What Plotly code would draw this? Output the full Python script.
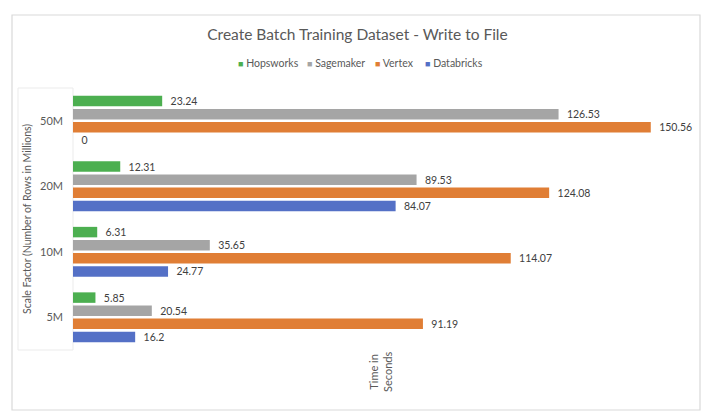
import plotly.graph_objects as go

categories = ["50M", "20M", "10M", "5M"]
hopsworks = [23.24, 12.31, 6.31, 5.85]
sagemaker = [126.53, 89.53, 35.65, 20.54]
vertex = [150.56, 124.08, 114.07, 91.19]
databricks = [0, 84.07, 24.77, 16.2]

series = [
    ("Hopsworks", hopsworks, "#4CAF50"),
    ("Sagemaker", sagemaker, "#A5A5A5"),
    ("Vertex", vertex, "#E07E35"),
    ("Databricks", databricks, "#5470C6"),
]

FONT = "Lato"
W, H = 715, 420
L, R, T, B = 73, 28, 88, 70
pw = W - L - R
ph = H - T - B

def px_x(p):
    return (p - L) / pw

def px_y(p):
    return (H - B - p) / ph

fig = go.Figure()
for name, vals, color in series:
    fig.add_trace(go.Bar(
        name=name, y=categories, x=vals, orientation="h",
        marker=dict(color=color, line=dict(width=0)),
        text=vals, texttemplate="  %{x}", textposition="outside",
        constraintext="none",
        textfont=dict(family=FONT, size=10.5, color="#404040"),
        cliponaxis=False, showlegend=False,
    ))

fig.update_layout(
    width=W, height=H,
    margin=dict(l=L, r=R, t=T, b=B),
    paper_bgcolor="white", plot_bgcolor="white",
    barmode="group", bargap=0.2, bargroupgap=0.2,
    font=dict(family=FONT, color="#595959"),
    title=dict(text="Create Batch Training Dataset - Write to File",
               x=0.5, xref="container", xanchor="center",
               y=1 - 35 / H, yref="container", yanchor="middle",
               font=dict(family=FONT, size=15.5, color="#595959")),
)
fig.update_xaxes(range=[0, 160], showgrid=False, showticklabels=False,
                 zeroline=False, showline=False, ticks="")
fig.update_yaxes(autorange="reversed", showgrid=False, zeroline=False,
                 showline=False, ticks="", ticklabelstandoff=9,
                 tickfont=dict(family=FONT, size=11, color="#595959"))

# compact legend row: one small annotation per series
legend_x = [236, 305, 373, 423]
for (name, _, color), lx in zip(series, legend_x):
    fig.add_annotation(
        text=f'<span style="color:{color};font-size:9px">■</span> {name}',
        xref="paper", yref="paper", x=px_x(lx), y=px_y(63),
        showarrow=False, xanchor="left", yanchor="middle",
        font=dict(family=FONT, size=10.5, color="#595959"))

fig.add_shape(type="rect", xref="paper", yref="paper",
              x0=px_x(12), x1=px_x(700), y0=px_y(410), y1=px_y(15),
              line=dict(color="#D9D9D9", width=1.2), layer="below")
fig.add_shape(type="rect", xref="paper", yref="paper",
              x0=px_x(18), x1=0, y0=0, y1=1,
              line=dict(color="#EBEBEB", width=1), layer="below")

fig.add_annotation(text="Scale Factor (Number of Rows in Millions)",
                   xref="paper", yref="paper", x=px_x(27), y=0.5,
                   textangle=-90, showarrow=False,
                   xanchor="center", yanchor="middle",
                   font=dict(family=FONT, size=10.5, color="#595959"))
fig.add_annotation(text="Time in<br>Seconds",
                   xref="paper", yref="paper", x=0.5, y=px_y(372),
                   textangle=-90, showarrow=False,
                   xanchor="center", yanchor="middle",
                   font=dict(family=FONT, size=11, color="#595959"))

fig.write_html("out.html")
